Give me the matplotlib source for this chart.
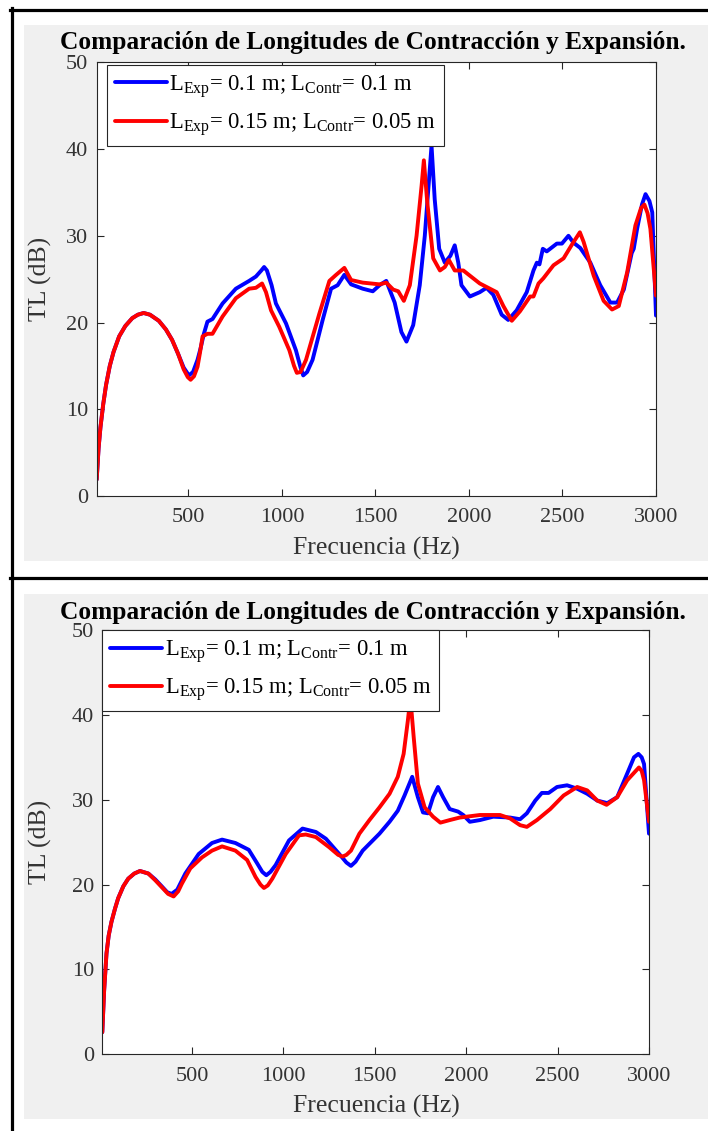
import matplotlib
matplotlib.use("Agg")
import matplotlib.pyplot as plt
from matplotlib.lines import Line2D
from matplotlib.patches import Rectangle

# ---------------- data ----------------
# Top panel
f_top_blue = [10, 20, 30, 45, 60, 80, 100, 130, 163, 200, 230, 261, 295, 342, 380, 413, 445, 475, 503, 525,
              549, 565, 583, 602, 629, 683, 754, 825, 861, 890, 905, 920,
              945, 968, 1022, 1075, 1100, 1114, 1135, 1164, 1218, 1263, 1298, 1334, 1370, 1432, 1486, 1522, 1558, 1603,
              1639, 1666, 1702, 1737, 1764, 1788, 1800, 1817, 1841, 1871, 1901, 1924, 1943, 1960, 2005, 2058,
              2094, 2130, 2175, 2210, 2255, 2309, 2345, 2363, 2377, 2395, 2416, 2470, 2497, 2532, 2559, 2595,
              2649, 2702, 2756, 2792, 2828, 2870, 2881, 2899, 2925, 2944, 2965, 2980, 3000]
tl_top_blue = [1.9, 5.5, 7.9, 10.6, 12.8, 15.0, 16.6, 18.4, 19.6, 20.5, 20.9, 21.1, 20.9, 20.2, 19.2, 18.0, 16.4, 14.8, 13.9, 14.3,
               15.7, 17.0, 18.7, 20.1, 20.4, 22.2, 23.9,
               24.8, 25.3, 26.0, 26.4, 26.0, 24.3, 22.2, 19.9, 16.8, 14.8, 13.9, 14.3, 15.7, 20.3, 23.9, 24.3, 25.5, 24.4, 23.9, 23.6,
               24.3, 24.8, 22.3, 18.9, 17.8, 19.7, 24.3, 30.0, 36.9, 40.4, 34.2, 28.5, 26.9, 27.7, 28.9, 26.9,
               24.3, 23.0, 23.5, 24.0, 23.2, 20.9, 20.3, 21.4, 23.5, 26.0, 26.9, 26.7, 28.5, 28.2, 29.1, 29.1,
               30.0, 29.2, 28.6, 26.9, 24.3, 22.3, 22.3, 23.8, 28.0, 28.5, 30.8, 33.6, 34.8, 34.0, 32.7, 20.8]
f_top_red = [10, 20, 30, 45, 60, 80, 100, 130, 163, 200, 230, 261, 295, 342, 380, 413, 445, 475, 497, 512, 530,
             549, 562, 576, 602, 629, 683, 754, 825, 861, 894,
             915, 942, 986, 1040, 1065, 1080, 1100, 1129, 1200, 1254, 1290, 1334, 1370, 1432, 1522, 1558, 1595, 1622,
             1652, 1684, 1720, 1747, 1759, 1777, 1809, 1845, 1871, 1893, 1924, 1970, 2005, 2058, 2112, 2148,
             2184, 2229, 2273, 2327, 2345, 2372, 2398, 2452, 2506, 2551, 2593, 2613, 2667, 2720, 2765, 2801,
             2846, 2890, 2920, 2938, 2955, 2970, 3000]
tl_top_red = [1.9, 5.5, 7.9, 10.6, 12.8, 15.0, 16.6, 18.4, 19.6, 20.5, 20.9, 21.1, 20.9, 20.2, 19.2, 18.0, 16.4, 14.6, 13.7, 13.4, 13.8,
              14.9, 16.5, 18.4, 18.7, 18.7, 20.7, 22.8,
              23.9, 24.0, 24.5, 23.5, 21.4, 19.5, 16.8, 15.0, 14.2, 14.3, 15.7, 21.0, 24.8, 25.5, 26.3, 24.9, 24.6, 24.4,
              24.6, 23.8, 23.6, 22.5, 24.3, 30.0, 35.8, 38.7, 33.9, 27.4, 26.0, 26.4, 27.2, 26.0, 26.0, 25.4,
              24.5, 23.9, 23.5, 21.9, 20.2, 21.3, 23.0, 23.0, 24.5, 25.1, 26.6, 27.4, 29.0, 30.4, 29.3, 25.4,
              22.5, 21.5, 21.9, 25.8, 31.2, 33.2, 33.6, 32.6, 30.8, 23.1]

# Bottom panel
f_bot_blue = [10, 20, 33, 45, 60, 80, 97, 125, 152, 185, 216, 262, 300, 335, 365, 389, 420, 464, 537, 610, 665, 738, 811, 857, 885, 907, 930, 958, 1031,
              1105, 1178, 1233, 1306, 1345, 1370, 1395, 1434, 1526, 1581, 1626, 1663, 1705, 1736, 1764, 1791, 1819, 1846,
              1874, 1910, 1956, 1984, 2020, 2075, 2148, 2240, 2295, 2332, 2378, 2414, 2451, 2497, 2552, 2607,
              2662, 2717, 2772, 2826, 2881, 2918, 2942, 2960, 2973, 3000]
tl_bot_blue = [2.6, 7.5, 11.9, 14.0, 15.6, 17.2, 18.4, 19.8, 20.7, 21.3, 21.6, 21.3, 20.6, 19.8, 19.1, 18.9, 19.4, 21.3, 23.6, 24.9, 25.3, 24.9, 24.1, 22.5, 21.5,
               21.1, 21.5, 22.3, 25.2, 26.6, 26.2, 25.4, 23.6, 22.6, 22.2, 22.7, 24.0, 26.0, 27.4, 28.7, 30.5, 32.7, 30.3, 28.5,
               28.4, 30.3, 31.5, 30.3, 28.9, 28.6, 28.2, 27.4, 27.6, 28.0, 27.9, 27.7, 28.4, 29.9, 30.8, 30.8,
               31.5, 31.7, 31.3, 30.7, 29.9, 29.6, 30.3, 33.1, 35.0, 35.4, 35.0, 34.2, 26.0]
f_bot_red = [10, 20, 33, 45, 60, 80, 97, 125, 152, 185, 216, 262, 300, 335, 370, 400, 425, 445, 491, 555, 610, 665, 738, 802, 848, 875, 894, 915, 940,
             1013, 1086, 1123, 1178, 1251, 1300, 1324, 1345, 1370, 1416, 1471, 1526, 1581, 1626, 1658, 1681, 1695, 1713,
             1736, 1773, 1819, 1859, 1910, 1965, 2075, 2185, 2240, 2295, 2332, 2387, 2460, 2533, 2607, 2662,
             2717, 2768, 2826, 2881, 2945, 2960, 2973, 3000]
tl_bot_red = [2.6, 7.5, 11.9, 14.0, 15.6, 17.2, 18.4, 19.8, 20.7, 21.3, 21.6, 21.3, 20.5, 19.7, 18.9, 18.6, 19.2, 20.1, 21.9, 23.2, 24.0, 24.5, 24.0, 22.9,
              20.9, 20.0, 19.6, 19.9, 20.7, 23.6, 25.8, 25.9, 25.6, 24.4, 23.5, 23.3, 23.5, 24.0, 26.0, 27.6, 29.1, 30.7, 32.7, 35.4,
              39.3, 42.0, 37.4, 31.9, 29.1, 28.0, 27.3, 27.6, 27.9, 28.2, 28.2, 27.8, 27.0, 26.8, 27.6, 28.9,
              30.5, 31.5, 31.1, 29.9, 29.4, 30.3, 32.3, 33.8, 33.4, 32.3, 27.4]

x_ticks = [500, 1000, 1500, 2000, 2500, 3000]
y_ticks = [0, 10, 20, 30, 40, 50]
legend_labels = [r'L$_{\mathrm{Exp}}$= 0.1 m; L$_{\mathrm{Contr}}$= 0.1 m',
                 r'L$_{\mathrm{Exp}}$= 0.15 m; L$_{\mathrm{Contr}}$= 0.05 m']
title_text = 'Comparación de Longitudes de Contracción y Expansión.'
xlabel_text = 'Frecuencia (Hz)'
ylabel_text = 'TL (dB)'

# ---------------- style ----------------
plt.rcParams['font.family'] = ['Liberation Serif', 'DejaVu Serif']
plt.rcParams['mathtext.fontset'] = 'custom'
plt.rcParams['mathtext.rm'] = 'Liberation Serif'
plt.rcParams['mathtext.it'] = 'Liberation Serif:italic'
plt.rcParams['mathtext.bf'] = 'Liberation Serif:bold'

W, H = 708, 1131
fig = plt.figure(figsize=(W / 100, H / 100), dpi=100)
fig.patch.set_facecolor('white')

def fx(px):
    return px / W

def fy(py):
    return 1 - py / H

GRAY = '#f0f0f0'
TXT = '#262626'
LBL = '#333333'

# gray panels
fig.add_artist(Rectangle((fx(24), fy(561)), fx(708) - fx(24), fy(25) - fy(561),
                         transform=fig.transFigure, facecolor=GRAY, edgecolor='none', zorder=0))
fig.add_artist(Rectangle((fx(24), fy(1119)), fx(708) - fx(24), fy(594) - fy(1119),
                         transform=fig.transFigure, facecolor=GRAY, edgecolor='none', zorder=0))

# table borders
lw_b = 2.3
fig.add_artist(Line2D([fx(11.5), fx(11.5)], [fy(8), fy(1131)], transform=fig.transFigure,
                      color='black', lw=lw_b))
fig.add_artist(Line2D([fx(10), fx(708)], [fy(9.5), fy(9.5)], transform=fig.transFigure,
                      color='black', lw=lw_b))
fig.add_artist(Line2D([fx(10), fx(708)], [fy(577.5), fy(577.5)], transform=fig.transFigure,
                      color='black', lw=lw_b))

panels = [
    dict(box=(96.7, 62.3, 656, 496), blue=(f_top_blue, tl_top_blue), red=(f_top_red, tl_top_red),
         title_y=43, xlabel_y=548, leg=(106.7, 65)),
    dict(box=(102.3, 630, 649, 1054.3), blue=(f_bot_blue, tl_bot_blue), red=(f_bot_red, tl_bot_red),
         title_y=612, xlabel_y=1106, leg=(102.3, 630)),
]

FS = 16
for p in panels:
    l, t, r, b = p['box']
    ax = fig.add_axes([fx(l), fy(b), fx(r) - fx(l), fy(t) - fy(b)])
    ax.set_facecolor('white')
    ax.plot(*p['blue'], color=(0, 0, 1), lw=2.8, label=legend_labels[0],
            solid_joinstyle='round', solid_capstyle='round')
    ax.plot(*p['red'], color=(1, 0, 0), lw=2.8, label=legend_labels[1],
            solid_joinstyle='round', solid_capstyle='round')
    ax.set_xlim(10, 3000)
    ax.set_ylim(0, 50)
    ax.set_xticks(x_ticks)
    ax.set_yticks(y_ticks)
    ax.tick_params(direction='in', top=True, right=True, length=5, width=0.8, color=TXT,
                   labelsize=FS, labelcolor=LBL)
    ax.tick_params(axis='x', pad=9)
    ax.tick_params(axis='y', pad=6)
    for s in ax.spines.values():
        s.set_color(TXT)
        s.set_linewidth(0.8)
    # legend
    lx, ly = p['leg']
    leg = ax.legend(loc='upper left',
                    bbox_to_anchor=((lx - l) / (r - l), 1 - (ly - t) / (b - t)),
                    prop={'size': 16.3}, frameon=True, fancybox=False, borderaxespad=0,
                    handlelength=2.3, handletextpad=0.1, borderpad=0.35, labelspacing=0.5,
                    framealpha=1)
    leg.get_frame().set_edgecolor(TXT)
    leg.get_frame().set_linewidth(0.8)
    for txt in leg.get_texts():
        txt.set_color('black')
    # title / labels
    fig.text(fx(373), fy(p['title_y']), title_text, ha='center', va='center',
             fontsize=18.3, fontweight='bold', color='black')
    fig.text(fx(376), fy(p['xlabel_y']), xlabel_text, ha='center', va='center',
             fontsize=18.5, color=LBL)
    fig.text(fx(40), fy((t + b) / 2), ylabel_text, ha='center', va='center', rotation=90,
             fontsize=18.5, color=LBL)

fig.savefig('out.png', dpi=100, facecolor='white')
